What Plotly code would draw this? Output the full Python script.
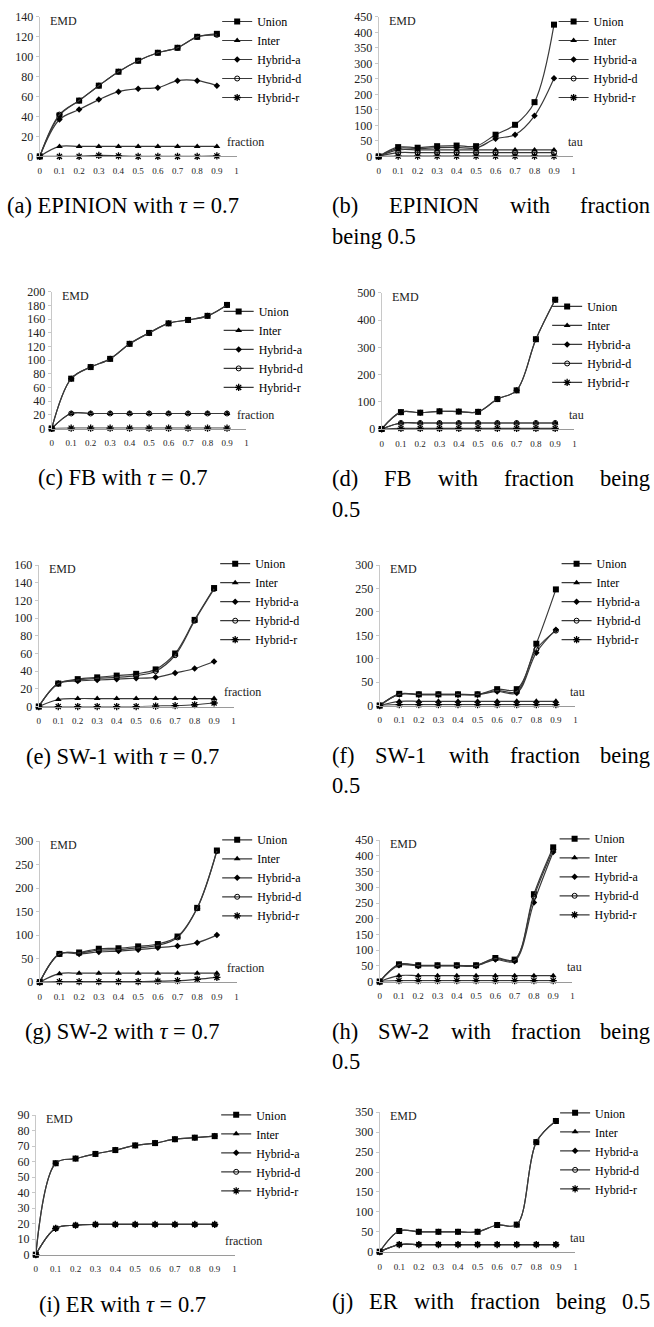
import plotly.graph_objects as go

W, H = 654, 1327
FONT = "Liberation Serif"

# ---------------- data ----------------
X = [0, 0.1, 0.2, 0.3, 0.4, 0.5, 0.6, 0.7, 0.8, 0.9]
X_TICKS = [0, 0.1, 0.2, 0.3, 0.4, 0.5, 0.6, 0.7, 0.8, 0.9, 1]
X_TICK_TEXT = ["0", "0.1", "0.2", "0.3", "0.4", "0.5", "0.6", "0.7", "0.8", "0.9", "1"]
SERIES = ["Union", "Inter", "Hybrid-a", "Hybrid-d", "Hybrid-r"]

# (a) EPINION, tau = 0.7, x = fraction
a_union = [0, 41, 56, 71, 85, 96, 104, 109, 120, 123]
a_inter = [0, 10, 10, 10, 10, 10, 10, 10, 10, 10]
a_hybrid_a = [0, 37, 47, 57, 65, 68, 69, 76, 76, 71]
a_hybrid_d = [0, 42, 56, 71, 85, 96, 104, 109, 120, 122]
a_hybrid_r = [0, 0, 0, 1, 0.5, 0, 0, 0, 0, 0.5]

# (b) EPINION, fraction = 0.5, x = tau
b_union = [0, 30, 28, 33, 35, 33, 70, 102, 175, 425]
b_inter = [0, 21, 21, 21, 21, 21, 21, 21, 21, 21]
b_hybrid_a = [0, 26, 25, 28, 29, 27, 57, 70, 131, 252]
b_hybrid_d = [0, 12, 12, 12, 12, 12, 12, 12, 12, 12]
b_hybrid_r = [0, 1, 1, 1, 1, 1, 1, 1, 1, 1]

# (c) FB, tau = 0.7
c_union = [0, 73, 90, 102, 124, 140, 154, 159, 165, 181]
c_inter = [0, 22, 22, 22, 22, 22, 22, 22, 22, 22]
c_hybrid_a = [0, 73, 90, 102, 124, 140, 154, 159, 165, 181]
c_hybrid_d = [0, 22, 22, 22, 22, 22, 22, 22, 22, 22]
c_hybrid_r = [0, 0.5, 0.5, 0.5, 0.5, 0.5, 0.5, 0.5, 0.5, 0.5]

# (d) FB, fraction = 0.5
d_union = [0, 62, 60, 65, 64, 63, 110, 142, 330, 475]
d_inter = [0, 22, 22, 22, 22, 22, 22, 22, 22, 22]
d_hybrid_a = [0, 62, 60, 65, 64, 63, 110, 142, 330, 475]
d_hybrid_d = [0, 22, 22, 22, 22, 22, 22, 22, 22, 22]
d_hybrid_r = [0, 2, 2, 2, 2, 2, 2, 2, 2, 2]

# (e) SW-1, tau = 0.7
e_union = [0, 26, 31, 33, 35, 37, 42, 60, 98, 134]
e_inter = [0, 8, 9, 9, 9, 9, 9, 9, 9, 9]
e_hybrid_a = [0, 26, 29, 30, 31, 32, 33, 38, 43, 51]
e_hybrid_d = [0, 26, 30, 32, 33, 35, 40, 58, 97, 133]
e_hybrid_r = [0, 0, 0, 0, 0, 0, 0.5, 1, 2, 4]

# (f) SW-1, fraction = 0.5
f_union = [0, 25, 24, 24, 24, 24, 35, 35, 132, 248]
f_inter = [0, 9, 9, 9, 9, 9, 9, 9, 9, 9]
f_hybrid_a = [0, 24, 23, 23, 23, 23, 30, 27, 113, 162]
f_hybrid_d = [0, 24, 24, 24, 24, 24, 32, 30, 120, 160]
f_hybrid_r = [0, 2, 2, 2, 2, 2, 2, 2, 2, 2]

# (g) SW-2, tau = 0.7
g_union = [0, 60, 63, 71, 72, 76, 81, 97, 158, 280]
g_inter = [0, 18, 19, 19, 19, 19, 19, 19, 19, 19]
g_hybrid_a = [0, 60, 60, 64, 66, 69, 73, 77, 84, 100]
g_hybrid_d = [0, 60, 62, 68, 69, 73, 78, 95, 157, 279]
g_hybrid_r = [0, 1, 1, 1, 1, 1, 2, 3, 6, 10]

# (h) SW-2, fraction = 0.5
h_union = [0, 55, 52, 52, 52, 52, 75, 70, 278, 427]
h_inter = [0, 19, 19, 19, 19, 19, 19, 19, 19, 19]
h_hybrid_a = [0, 52, 50, 50, 50, 50, 70, 65, 252, 412]
h_hybrid_d = [0, 54, 51, 51, 51, 51, 73, 68, 270, 420]
h_hybrid_r = [0, 3, 3, 3, 3, 3, 3, 3, 3, 3]

# (i) ER, tau = 0.7
i_union = [0, 59, 62, 65, 67.5, 70.5, 72, 74.5, 75.5, 76.5]
i_inter = [0, 17, 19, 19.5, 19.5, 19.5, 19.5, 19.5, 19.5, 19.5]
i_hybrid_a = [0, 59, 62, 65, 67.5, 70.5, 72, 74.5, 75.5, 76.5]
i_hybrid_d = [0, 17, 19, 19.5, 19.5, 19.5, 19.5, 19.5, 19.5, 19.5]
i_hybrid_r = [0, 17, 19, 19.5, 19.5, 19.5, 19.5, 19.5, 19.5, 19.5]

# (j) ER, fraction = 0.5
j_union = [0, 52, 50, 50, 50, 50, 67, 68, 275, 328]
j_inter = [0, 18, 18, 18, 18, 18, 18, 18, 18, 18]
j_hybrid_a = [0, 52, 50, 50, 50, 50, 67, 68, 275, 328]
j_hybrid_d = [0, 18, 18, 18, 18, 18, 18, 18, 18, 18]
j_hybrid_r = [0, 18, 18, 18, 18, 18, 18, 18, 18, 18]

# ---------------- panel layout (pixels) ----------------
panels = [
    dict(data=[a_union, a_inter, a_hybrid_a, a_hybrid_d, a_hybrid_r], x0=38, x1=236, yt=10, yb=151,
         ymax=140, dtick=20, xl="fraction", lx=236.5, ly=20,
         cap=["(a) EPINION with <i>τ</i> = 0.7"]),
    dict(data=[b_union, b_inter, b_hybrid_a, b_hybrid_d, b_hybrid_r], x0=379, x1=575, yt=10, yb=151,
         ymax=450, dtick=50, xl="tau", lx=575, ly=21,
         cap=["(b) EPINION with fraction", "being 0.5"]),
    dict(data=[c_union, c_inter, c_hybrid_a, c_hybrid_d, c_hybrid_r], x0=50, x1=246, yt=288, yb=426,
         ymax=200, dtick=20, xl="fraction", lx=238, ly=319,
         cap=["(c) FB with <i>τ</i> = 0.7"]),
    dict(data=[d_union, d_inter, d_hybrid_a, d_hybrid_d, d_hybrid_r], x0=382, x1=576, yt=289, yb=426.5,
         ymax=500, dtick=100, xl="tau", lx=568.5, ly=314,
         cap=["(d) FB with fraction being", "0.5"]),
    dict(data=[e_union, e_inter, e_hybrid_a, e_hybrid_d, e_hybrid_r], x0=37, x1=233, yt=564, yb=707,
         ymax=160, dtick=20, xl="fraction", lx=234.5, ly=574,
         cap=["(e) SW-1 with <i>τ</i> = 0.7"]),
    dict(data=[f_union, f_inter, f_hybrid_a, f_hybrid_d, f_hybrid_r], x0=380, x1=577, yt=564, yb=706,
         ymax=300, dtick=50, xl="tau", lx=578, ly=574,
         cap=["(f) SW-1 with fraction being", "0.5"]),
    dict(data=[g_union, g_inter, g_hybrid_a, g_hybrid_d, g_hybrid_r], x0=38, x1=236, yt=843, yb=985.5,
         ymax=300, dtick=50, xl="fraction", lx=236.5, ly=853,
         cap=["(g) SW-2 with <i>τ</i> = 0.7"]),
    dict(data=[h_union, h_inter, h_hybrid_a, h_hybrid_d, h_hybrid_r], x0=380, x1=574, yt=842, yb=985,
         ymax=450, dtick=50, xl="tau", lx=576, ly=852,
         cap=["(h) SW-2 with fraction being", "0.5"]),
    dict(data=[i_union, i_inter, i_hybrid_a, i_hybrid_d, i_hybrid_r], x0=34, x1=234, yt=1120, yb=1261,
         ymax=90, dtick=10, xl="fraction", lx=235.5, ly=1131,
         cap=["(i) ER with <i>τ</i> = 0.7"]),
    dict(data=[j_union, j_inter, j_hybrid_a, j_hybrid_d, j_hybrid_r], x0=380, x1=577, yt=1117, yb=1258,
         ymax=350, dtick=50, xl="tau", lx=576.5, ly=1129,
         cap=["(j) ER with fraction being 0.5"]),
]

MARKERS = [
    dict(symbol="square", size=6, color="black"),
    dict(symbol="triangle-up", size=6, color="black"),
    dict(symbol="diamond", size=5, color="black"),
    dict(symbol="circle-open", size=5, color="black", line=dict(width=1, color="black")),
    dict(symbol="asterisk-open", size=6, color="black", line=dict(width=1.3, color="black")),
]

CAP_SIZE = 22.5
TIMES_W = {" ": 250, "(": 333, ")": 333, "a": 444, "b": 500, "c": 444, "d": 500, "e": 444,
           "f": 333, "g": 500, "h": 500, "i": 278, "j": 278, "n": 500, "o": 500, "r": 333,
           "t": 278, "w": 722, "E": 611, "P": 556, "I": 333, "N": 722, "O": 722, "F": 556,
           "B": 667, "S": 556, "W": 944, "R": 667, "-": 333, ".": 250}


def text_width(s, size):
    return sum(TIMES_W.get(ch, 500) for ch in s) * size / 1000.0


def px(xp):
    return xp / W


def py(yp):
    return 1 - yp / H


fig = go.Figure()
annotations = []
layout = {}

for k, p in enumerate(panels, start=1):
    sfx = "" if k == 1 else str(k)
    xa, ya = "x" + sfx, "y" + sfx
    leg = "legend" + sfx
    for s_i, name in enumerate(SERIES):
        fig.add_trace(go.Scatter(
            x=X, y=p["data"][s_i], name=name, mode="lines+markers",
            xaxis=xa, yaxis=ya, legend=leg, cliponaxis=False,
            line=dict(color="#3a3a3a", width=1.2, shape="spline", smoothing=1),
            marker=MARKERS[s_i],
        ))
    layout["xaxis" + sfx] = dict(
        domain=[px(p["x0"]), px(p["x1"])], anchor=ya, range=[0, 1],
        tickmode="array", tickvals=X_TICKS, ticktext=X_TICK_TEXT,
        showline=True, linecolor="#9a9a9a", linewidth=1, ticks="",
        showgrid=False, zeroline=False, ticklabelstandoff=6,
        tickfont=dict(family=FONT, size=9, color="#222"),
    )
    layout["yaxis" + sfx] = dict(
        domain=[py(p["yb"]), py(p["yt"])], anchor=xa, range=[0, p["ymax"]], dtick=p["dtick"],
        showline=True, linecolor="#c8c8c8", linewidth=1, ticks="outside", ticklen=3,
        tickcolor="#c8c8c8", showgrid=False, zeroline=False,
        tickfont=dict(family=FONT, size=12, color="#222"),
    )
    layout[leg] = dict(
        x=px(p["lx"] - 20), y=py(max(0, p["ly"] - 26)), xanchor="left", yanchor="top",
        bgcolor="rgba(0,0,0,0)", borderwidth=0, itemwidth=30, tracegroupgap=0,
        font=dict(family=FONT, size=12, color="black"),
    )
    annotations.append(dict(text="EMD", xref="paper", yref="paper", x=px(p["x0"] + 8),
                            y=py(p["yt"] + 4), xanchor="left", yanchor="middle", showarrow=False,
                            font=dict(family=FONT, size=12, color="#222")))
    xl_x = 0.94 if p["xl"] == "fraction" else 0.96
    annotations.append(dict(text=p["xl"], xref=xa + " domain", yref=ya + " domain", x=xl_x, y=0.1,
                            xanchor="left", yanchor="middle", showarrow=False,
                            font=dict(family=FONT, size=12, color="#222")))
    cap_y = p["yb"] + 50
    if k % 2 == 1:
        annotations.append(dict(text=p["cap"][0], xref="paper", yref="paper", x=px(121.5),
                                y=py(cap_y), xanchor="center", yanchor="middle", showarrow=False,
                                font=dict(family=FONT, size=CAP_SIZE, color="black")))
    else:
        left, right = 330, 650
        words = p["cap"][0].split(" ")
        widths = [text_width(w, CAP_SIZE) for w in words]
        gap = (right - left - sum(widths)) / (len(words) - 1)
        xpos = left
        for w, wd in zip(words, widths):
            annotations.append(dict(text=w, xref="paper", yref="paper", x=px(xpos), y=py(cap_y),
                                    xanchor="left", yanchor="middle", showarrow=False,
                                    font=dict(family=FONT, size=CAP_SIZE, color="black")))
            xpos += wd + gap
        if len(p["cap"]) > 1:
            annotations.append(dict(text=p["cap"][1], xref="paper", yref="paper", x=px(left),
                                    y=py(cap_y + 31), xanchor="left", yanchor="middle",
                                    showarrow=False,
                                    font=dict(family=FONT, size=CAP_SIZE, color="black")))

fig.update_layout(
    width=W, height=H, margin=dict(l=0, r=0, t=0, b=0),
    paper_bgcolor="white", plot_bgcolor="white",
    annotations=annotations, **layout,
)

fig.write_html("out.html")
